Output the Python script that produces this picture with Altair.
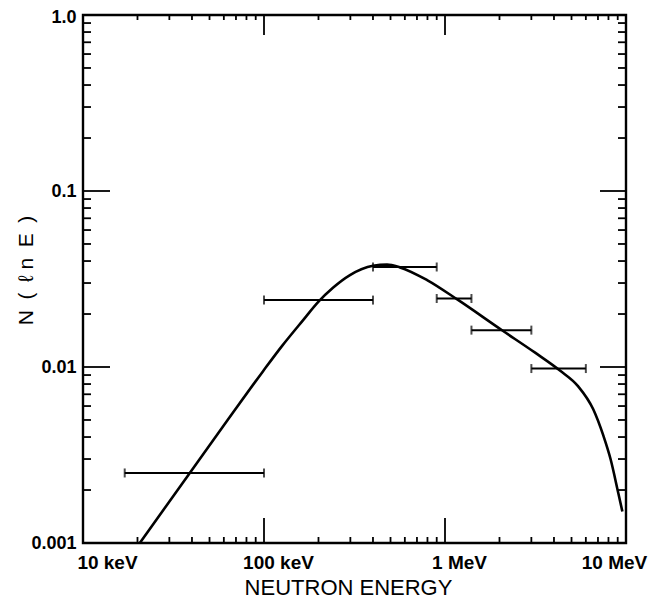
import altair as alt
import pandas as pd

# ---- data (x in keV) ----
curve_e = [20.6, 39.0, 63.1, 98.6, 125.9, 164.1, 199.5, 240.4, 298.5, 399.9, 478.6, 563.6, 796.2,
           1180, 2056, 3162, 4315, 5445, 6592, 7499, 8222, 9057, 9550]
curve_n = [0.00100, 0.00251, 0.00501, 0.00944, 0.01318, 0.01841, 0.02344, 0.02818, 0.03327, 0.03758,
           0.03819, 0.03681, 0.03119, 0.02404, 0.01622, 0.01202, 0.00955, 0.00776, 0.00575, 0.00407,
           0.00299, 0.00193, 0.00151]

bar_lo = [17, 100, 400, 900, 1400, 3000]
bar_hi = [100, 400, 900, 1400, 3000, 6000]
bar_n = [0.0025, 0.024, 0.037, 0.0245, 0.0162, 0.0098]

x_major = [10, 100, 1000, 10000]
x_labels = ["10 keV", "100 keV", "1 MeV", "10 MeV"]
y_major = [0.001, 0.01, 0.1, 1.0]
y_labels = ["0.001", "0.01", "0.1", "1.0"]

x_inner_major = [100, 1000]
x_minor = [m * d for d in [10, 100, 1000] for m in range(2, 10)]
y_inner_major = [0.01, 0.1]
y_minor = [m * d for d in [0.001, 0.01, 0.1] for m in range(2, 10)]

W, H = 543, 528
FONT = "Liberation Sans"

xs = alt.Scale(type="log", domain=[10, 10000], nice=False)
ys = alt.Scale(type="log", domain=[0.001, 1], nice=False)

x_expr = " : ".join(f"datum.value == {v} ? '{l}'" for v, l in zip(x_major, x_labels)) + " : ''"
y_expr = " : ".join(f"abs(datum.value - {v}) < {v/100} ? '{l}'" for v, l in zip(y_major, y_labels)) + " : ''"

x_axis = alt.Axis(values=x_major, labelExpr=x_expr, ticks=False, domain=False, grid=False,
                  labelFlush=False, labelOverlap=False,
                  labelFont=FONT, labelFontSize=19, labelFontWeight="bold", labelPadding=10,
                  labelOffset={"condition": [{"test": "datum.value == 10", "value": 24},
                                             {"test": "datum.value == 10000", "value": -12}],
                               "value": 14},
                  title="NEUTRON ENERGY", titleFont=FONT, titleFontSize=22, titleFontWeight="normal",
                  titleBaseline="alphabetic", titleY=51, titleX=265)
y_axis = alt.Axis(values=y_major, labelExpr=y_expr, ticks=False, domain=False, grid=False,
                  labelFlush=False, labelOverlap=False,
                  labelFont=FONT, labelFontSize=18, labelFontWeight="bold", labelPadding=7,
                  labelOffset={"condition": {"test": "datum.value == 1", "value": 2}, "value": 0},
                  title="N\u2002(\u2002\u2113 n\u2002E\u2002)", titleFont=FONT, titleFontSize=21,
                  titleFontWeight="normal",
                  titleBaseline="middle", titleX=-57, titleY=255)

curve_df = pd.DataFrame({"e": curve_e, "n": curve_n})
bars_df = pd.DataFrame({"lo": bar_lo, "hi": bar_hi, "n": bar_n})

curve = alt.Chart(curve_df).mark_line(color="black", strokeWidth=2.6, interpolate="monotone").encode(
    x=alt.X("e:Q", scale=xs, axis=x_axis),
    y=alt.Y("n:Q", scale=ys, axis=y_axis),
)

bar_rule = alt.Chart(bars_df).mark_rule(color="black", strokeWidth=2).encode(
    x=alt.X("lo:Q", scale=xs), x2="hi:Q", y=alt.Y("n:Q", scale=ys))
cap_lo = alt.Chart(bars_df).mark_tick(color="black", orient="vertical", size=9, thickness=2).encode(
    x=alt.X("lo:Q", scale=xs), y=alt.Y("n:Q", scale=ys))
cap_hi = alt.Chart(bars_df).mark_tick(color="black", orient="vertical", size=9, thickness=2).encode(
    x=alt.X("hi:Q", scale=xs), y=alt.Y("n:Q", scale=ys))


def xticks(vals, y0, y1, width=1.8):
    return alt.Chart(pd.DataFrame({"t": vals})).mark_rule(color="black", strokeWidth=width).encode(
        x=alt.X("t:Q", scale=xs), y=alt.value(y0), y2=alt.value(y1))


def yticks(vals, x0, x1, width=1.8):
    return alt.Chart(pd.DataFrame({"t": vals})).mark_rule(color="black", strokeWidth=width).encode(
        y=alt.Y("t:Q", scale=ys), x=alt.value(x0), x2=alt.value(x1))


ticks = [
    xticks(x_inner_major, H, H - 25),
    xticks(x_minor, H, H - 6),
    xticks(x_inner_major, 0, 20),
    xticks(x_minor, 0, 5),
    yticks(y_inner_major, 0, 27),
    yticks(y_minor, 0, 8),
    yticks(y_inner_major, W, W - 26),
    yticks(y_minor, W, W - 8),
]

chart = alt.layer(curve, bar_rule, cap_lo, cap_hi, *ticks).properties(
    width=W, height=H,
    autosize=alt.AutoSizeParams(type="none"),
    padding={"left": 75, "top": 7, "right": 26, "bottom": 56},
    background="white",
).configure_view(stroke="black", strokeWidth=2.4)

chart.save("out.html", embed_options={"renderer": "svg", "actions": False})
